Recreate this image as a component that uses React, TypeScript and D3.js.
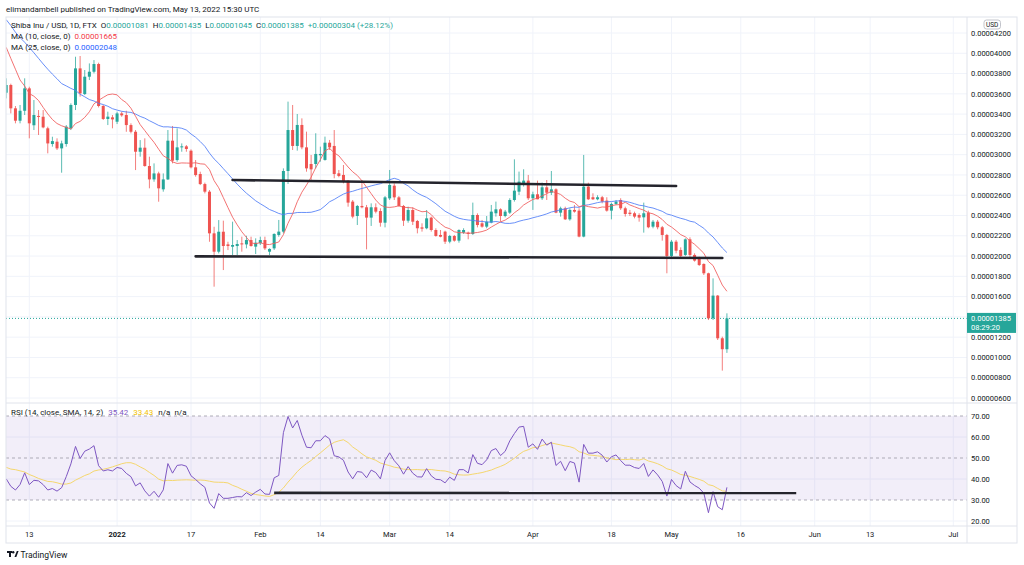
import React from "react";
import * as d3 from "d3";

// Prices are in units of 1e-8 USD (e.g. 4200 = 0.00004200)
const startDate = Date.UTC(2021, 11, 8);
// Closes before the first visible candle (Nov 8 – Dec 7, 2021), used for MA/RSI warm-up
const priorCloses = [4400, 4600, 4500, 4700, 4550, 4500, 4900, 5000, 4750, 4800, 4600, 4700, 4750, 4650, 4400, 4350, 4200, 4300, 3850, 4100, 4350, 4550, 4400, 4500, 4250, 4050, 3650, 3800, 3950, 3750];

const opens = [
  3611, 3687, 3457, 3335, 3433, 3654, 3290, 3382, 3374, 3260,
  3105, 3128, 3062, 3105, 3259, 3490, 3851, 3598, 3769, 3818,
  3894, 3480, 3352, 3368, 3325, 3407, 3391, 3292, 3226, 3029,
  3069, 2888, 2756, 2815, 2658, 2756, 3138, 2947, 3072, 3082,
  3039, 2875, 2809, 2710, 2635, 2224, 2043, 2240, 2115, 2092,
  2099, 2125, 2115, 2158, 2093, 2126, 2158, 2043, 2076, 2208,
  2241, 2839, 3243, 3086, 3293, 3072, 2908, 2908, 2994, 2948,
  3118, 3086, 2816, 2800, 2744, 2537, 2395, 2494, 2481, 2379,
  2481, 2444, 2329, 2569, 2694, 2579, 2494, 2349, 2454, 2346,
  2283, 2274, 2379, 2257, 2208, 2241, 2142, 2198, 2152, 2231,
  2231, 2218, 2405, 2323, 2290, 2330, 2422, 2461, 2395, 2428,
  2553, 2635, 2718, 2744, 2570, 2609, 2570, 2678, 2625, 2658,
  2428, 2471, 2362, 2455, 2448, 2192, 2685, 2580, 2560, 2580,
  2547, 2448, 2514, 2553, 2471, 2428, 2422, 2405, 2382, 2428,
  2290, 2339, 2284, 2208, 2001, 2142, 2060, 2011, 2165, 2011,
  1978, 1922, 1830, 1386, 1610, 1189, 1081,
];
const highs = [
  3753, 3700, 3480, 3490, 3753, 3670, 3539, 3440, 3440, 3276,
  3177, 3161, 3138, 3292, 3506, 3966, 3973, 3835, 3900, 3933,
  3907, 3490, 3424, 3391, 3424, 3424, 3433, 3309, 3243, 3144,
  3161, 2980, 2914, 2832, 2815, 3243, 3283, 3260, 3111, 3095,
  3052, 2947, 2832, 2724, 2651, 2289, 2355, 2349, 2141, 2339,
  2158, 2191, 2200, 2191, 2175, 2191, 2191, 2076, 2224, 2356,
  2865, 3523, 3490, 3401, 3358, 3227, 2997, 3211, 3079, 3178,
  3145, 3243, 2849, 2898, 2750, 2553, 2504, 2750, 2504, 2520,
  2520, 2471, 2592, 2849, 2717, 2592, 2504, 2487, 2481, 2356,
  2323, 2454, 2389, 2274, 2257, 2250, 2208, 2208, 2264, 2274,
  2241, 2527, 2421, 2356, 2395, 2504, 2537, 2471, 2455, 2570,
  2954, 2833, 2856, 2800, 2635, 2744, 2724, 2750, 2839, 2668,
  2487, 2487, 2471, 2504, 2471, 2997, 2724, 2619, 2600, 2593,
  2580, 2527, 2553, 2570, 2487, 2455, 2438, 2422, 2527, 2448,
  2356, 2356, 2297, 2218, 2159, 2159, 2086, 2175, 2185, 2027,
  1994, 1928, 1836, 1780, 1616, 1205, 1435,
];
const lows = [
  3555, 3407, 3309, 3309, 3391, 3161, 3243, 3194, 3260, 3013,
  3079, 3046, 2822, 3079, 3243, 3440, 3572, 3588, 3736, 3802,
  3466, 3342, 3292, 3260, 3302, 3374, 3226, 3210, 2848, 2980,
  2881, 2668, 2733, 2536, 2635, 2750, 2914, 2931, 3029, 3029,
  2865, 2783, 2700, 2618, 2141, 1698, 2026, 1862, 2059, 2010,
  2010, 2043, 2076, 2093, 2020, 2109, 2060, 2010, 2060, 2191,
  2224, 2711, 3046, 3040, 3053, 2832, 2734, 2865, 2931, 2941,
  3046, 2767, 2777, 2717, 2487, 2372, 2306, 2471, 2066, 2297,
  2421, 2290, 2283, 2553, 2553, 2487, 2297, 2329, 2306, 2224,
  2241, 2264, 2241, 2191, 2185, 2119, 2126, 2142, 2132, 2218,
  2165, 2208, 2283, 2280, 2274, 2323, 2389, 2339, 2382, 2415,
  2537, 2602, 2685, 2553, 2455, 2560, 2553, 2553, 2602, 2422,
  2389, 2356, 2349, 2428, 2185, 2185, 2553, 2553, 2550, 2520,
  2438, 2362, 2504, 2455, 2389, 2395, 2372, 2339, 2231, 2274,
  2274, 2264, 2152, 1830, 1988, 2027, 1988, 2001, 1988, 1945,
  1902, 1813, 1369, 1369, 1172, 870, 1045,
];
const closes = [
  3687, 3457, 3335, 3433, 3654, 3309, 3391, 3375, 3269, 3111,
  3134, 3062, 3111, 3276, 3490, 3851, 3605, 3769, 3818, 3894,
  3480, 3352, 3375, 3348, 3407, 3388, 3292, 3226, 3029, 3069,
  2888, 2756, 2815, 2668, 2756, 3138, 2941, 3072, 3082, 3056,
  2875, 2799, 2710, 2635, 2224, 2043, 2240, 2099, 2099, 2109,
  2119, 2115, 2158, 2099, 2132, 2158, 2076, 2070, 2218, 2241,
  2839, 3243, 3086, 3293, 3072, 2865, 2855, 3007, 3007, 3118,
  3072, 2809, 2790, 2734, 2527, 2389, 2494, 2481, 2379, 2481,
  2438, 2329, 2579, 2701, 2579, 2494, 2349, 2454, 2339, 2274,
  2270, 2372, 2257, 2198, 2191, 2142, 2198, 2152, 2257, 2257,
  2218, 2405, 2306, 2290, 2339, 2438, 2461, 2395, 2438, 2553,
  2645, 2734, 2744, 2570, 2609, 2560, 2678, 2625, 2658, 2428,
  2471, 2362, 2455, 2438, 2192, 2685, 2560, 2560, 2580, 2537,
  2448, 2514, 2537, 2471, 2415, 2415, 2389, 2379, 2422, 2284,
  2339, 2284, 2208, 2001, 2142, 2053, 2001, 2165, 2011, 1955,
  1912, 1830, 1386, 1610, 1189, 1081, 1385,
];

const priceTicks = [4200, 4000, 3800, 3600, 3400, 3200, 3000, 2800, 2600, 2400, 2200, 2000, 1800, 1600, 1200, 1000, 800, 600];
const priceGrid = [4200, 4000, 3800, 3600, 3400, 3200, 3000, 2800, 2600, 2400, 2200, 2000, 1800, 1600, 1400, 1200, 1000, 800, 600];
const rsiTicks = [70, 60, 50, 40, 30, 20];
const rsiDashed = [70, 50, 30];
const timeTickDates = ["2021-12-13", "2022-01-01", "2022-01-17", "2022-02-01", "2022-02-14", "2022-03-01", "2022-03-14", "2022-04-01", "2022-04-18", "2022-05-01", "2022-05-16", "2022-06-01", "2022-06-13", "2022-07-01"];
const timeTickLabels = ["13", "2022", "17", "Feb", "14", "Mar", "14", "Apr", "18", "May", "16", "Jun", "13", "Jul"];

// Drawn trend lines: [date, value]
const resistanceLine = [["2022-01-26", 2750], ["2022-05-02", 2691]];
const supportLine = [["2022-01-18", 1997], ["2022-05-12", 1981]];
const rsiSupportLine = [["2022-02-04", 33.4], ["2022-05-28", 33.3]];

const lastPrice = 1385;
const countdown = "08:29:20";

const GREEN = "#26a69a";
const RED = "#ef5350";
const FONT = "Roboto, 'Liberation Sans', sans-serif";
const TEXT = "#131722";

function sma(vals: number[], len: number) {
  return vals.map((_, i) => (i < len - 1 ? NaN : d3.mean(vals.slice(i - len + 1, i + 1)) as number));
}
function rsiCalc(vals: number[], len: number) {
  const out = vals.map(() => NaN);
  let up = 0, dn = 0;
  for (let i = 1; i < vals.length; i++) {
    const ch = vals[i] - vals[i - 1];
    const u = Math.max(ch, 0), d = Math.max(-ch, 0);
    if (i <= len) {
      up += u / len; dn += d / len;
      if (i === len) out[i] = dn === 0 ? 100 : 100 - 100 / (1 + up / dn);
    } else {
      up = (up * (len - 1) + u) / len;
      dn = (dn * (len - 1) + d) / len;
      out[i] = dn === 0 ? 100 : 100 - 100 / (1 + up / dn);
    }
  }
  return out;
}
function smaNaN(vals: number[], len: number) {
  return vals.map((_, i) => {
    if (i < len - 1) return NaN;
    const s = vals.slice(i - len + 1, i + 1);
    if (s.some((v) => isNaN(v))) return NaN;
    return d3.mean(s) as number;
  });
}

const L = 6, R = 967, TOP = 17, SEP = 403, TAX = 526, BOT = 543, RIGHT = 1017;

export default function App() {
  const dates = closes.map((_, i) => new Date(startDate + i * 86400000));
  const x = d3.scaleUtc().domain([new Date("2021-12-13"), new Date("2022-07-01")]).range([29.3, 953.3]);
  const y = d3.scaleLinear().domain([600, 4200]).range([398, 33]);
  const yr = d3.scaleLinear().domain([20, 70]).range([521, 416]);

  const all = [...priorCloses, ...closes];
  const off = priorCloses.length;
  const ma10 = sma(all, 10).slice(off);
  const ma25 = sma(all, 25).slice(off);
  const rsiAll = rsiCalc(all, 14);
  const rsiMaAll = smaNaN(rsiAll, 14);
  const rsi = rsiAll.slice(off);
  const rsiMa = rsiMaAll.slice(off);

  const line = (arr: number[], ys: (v: number) => number) =>
    d3.line<number>().defined((v) => !isNaN(v)).x((_, i) => x(dates[i])).y((v) => ys(v))(arr) || "";

  const fmt = (p: number) => (p * 1e-8).toFixed(8);
  const bw = 3;

  return (
    <div style={{ position: "fixed", left: 0, top: 0, width: 1024, height: 565, background: "#fff" }}>
      <svg width={1024} height={565} style={{ display: "block", fontFamily: FONT }}>
        <defs>
          <clipPath id="cp-price"><rect x={L} y={TOP} width={R - L} height={SEP - TOP} /></clipPath>
          <clipPath id="cp-rsi"><rect x={L} y={SEP} width={R - L} height={TAX - SEP} /></clipPath>
        </defs>
        <rect x={0} y={0} width={1024} height={565} fill="#fff" />
        <text x={6} y={12} fontSize={8} fill={TEXT}>elimandambell published on TradingView.com, May 13, 2022 15:30 UTC</text>

        {/* grid */}
        {timeTickDates.map((d) => (
          <line key={"vg" + d} x1={x(new Date(d))} x2={x(new Date(d))} y1={TOP} y2={TAX} stroke="#f0f3fa" />
        ))}
        {priceGrid.map((p) => (
          <line key={"hg" + p} x1={L} x2={R} y1={y(p)} y2={y(p)} stroke="#f0f3fa" />
        ))}
        {[60, 40, 20].map((v) => (
          <line key={"rg" + v} x1={L} x2={R} y1={yr(v)} y2={yr(v)} stroke="#f0f3fa" />
        ))}

        {/* RSI band */}
        <rect x={L} y={yr(70)} width={R - L} height={yr(30) - yr(70)} fill="rgba(126,87,194,0.1)" />
        {rsiDashed.map((v) => (
          <line key={"rd" + v} x1={L} x2={R} y1={yr(v)} y2={yr(v)} stroke="#9b98a6" strokeOpacity={0.8} strokeDasharray="3,3" />
        ))}

        {/* price pane */}
        <g clipPath="url(#cp-price)">
          <line x1={L} x2={R} y1={y(lastPrice)} y2={y(lastPrice)} stroke={GREEN} strokeDasharray="1,2" />
          {closes.map((c, i) => {
            const o = opens[i];
            const up = c >= o;
            const col = up ? GREEN : RED;
            const cx = x(dates[i]);
            const top = y(Math.max(o, c));
            const bot = y(Math.min(o, c));
            return (
              <g key={"c" + i}>
                <line x1={cx} x2={cx} y1={y(highs[i])} y2={y(lows[i])} stroke={col} strokeOpacity={0.75} />
                <rect x={cx - bw / 2} y={top} width={bw} height={Math.max(1, bot - top)} fill={col} />
              </g>
            );
          })}
          <path d={line(ma25, y)} fill="none" stroke="#4f7cf7" strokeOpacity={0.85} strokeWidth={1} />
          <path d={line(ma10, y)} fill="none" stroke="#f05a5a" strokeOpacity={0.85} strokeWidth={1} />
          {[resistanceLine, supportLine].map((ln, k) => (
            <line key={"tl" + k} x1={x(new Date(ln[0][0] as string))} y1={y(ln[0][1] as number)} x2={x(new Date(ln[1][0] as string))} y2={y(ln[1][1] as number)} stroke="#24242c" strokeWidth={2.6} strokeLinecap="round" />
          ))}
        </g>

        {/* RSI pane */}
        <g clipPath="url(#cp-rsi)">
          <path d={line(rsiMa, yr)} fill="none" stroke="#f5d76e" strokeWidth={1} />
          <path d={line(rsi, yr)} fill="none" stroke="#7e57c2" strokeWidth={1} />
          <line x1={x(new Date(rsiSupportLine[0][0] as string))} y1={yr(rsiSupportLine[0][1] as number)} x2={x(new Date(rsiSupportLine[1][0] as string))} y2={yr(rsiSupportLine[1][1] as number)} stroke="#24242c" strokeWidth={2.6} />
        </g>

        {/* frame */}
        <rect x={L} y={TOP} width={RIGHT - L} height={BOT - TOP} fill="none" stroke="#e0e3eb" />
        <line x1={R} x2={R} y1={TOP} y2={BOT} stroke="#e0e3eb" />
        <line x1={L} x2={RIGHT} y1={SEP} y2={SEP} stroke="#e0e3eb" />
        <line x1={L} x2={RIGHT} y1={TAX} y2={TAX} stroke="#e0e3eb" />

        {/* legends */}
        <text x={11} y={28} fontSize={8} fill={TEXT}>
          <tspan>Shiba Inu / USD, 1D, FTX </tspan>
          <tspan dx={2}>O</tspan><tspan fill={GREEN}>{fmt(opens[opens.length - 1])}</tspan>
          <tspan dx={4}>H</tspan><tspan fill={GREEN}>{fmt(highs[highs.length - 1])}</tspan>
          <tspan dx={4}>L</tspan><tspan fill={GREEN}>{fmt(lows[lows.length - 1])}</tspan>
          <tspan dx={4}>C</tspan><tspan fill={GREEN}>{fmt(closes[closes.length - 1])}</tspan>
          <tspan dx={4} fill={GREEN}>+0.00000304 (+28.12%)</tspan>
        </text>
        <text x={11} y={39} fontSize={8} fill={TEXT}>
          <tspan>MA (10, close, 0)</tspan><tspan dx={4} fill="#f23645">0.00001665</tspan>
        </text>
        <text x={11} y={49.5} fontSize={8} fill={TEXT}>
          <tspan>MA (25, close, 0)</tspan><tspan dx={4} fill="#2962ff">0.00002048</tspan>
        </text>
        <text x={11} y={415} fontSize={8} fill={TEXT}>
          <tspan>RSI (14, close, SMA, 14, 2)</tspan>
          <tspan dx={5} fill="#7e57c2">35.42</tspan>
          <tspan dx={5} fill="#f2c200">33.43</tspan>
          <tspan dx={5}>n/a</tspan>
          <tspan dx={4}>n/a</tspan>
        </text>

        {/* price axis */}
        {priceTicks.map((p) => (
          <text key={"pt" + p} x={971} y={y(p) + 2.7} fontSize={7.5} fill={TEXT}>{fmt(p)}</text>
        ))}
        <rect x={984} y={20} width={16.5} height={9} rx={2.5} fill="#fff" stroke="#b2b5be" strokeWidth={0.8} />
        <text x={992.2} y={26.9} fontSize={6.5} fill={TEXT} textAnchor="middle">USD</text>
        <rect x={R} y={y(lastPrice) - 5.5} width={49} height={20} fill={GREEN} />
        <text x={971} y={y(lastPrice) + 2.7} fontSize={7.5} fill="#fff">{fmt(lastPrice)}</text>
        <text x={971} y={y(lastPrice) + 11.5} fontSize={7.5} fill="#fff">{countdown}</text>

        {/* RSI axis */}
        {rsiTicks.map((v) => (
          <text key={"rt" + v} x={971} y={yr(v) + 2.7} fontSize={7.5} fill={TEXT}>{v.toFixed(2)}</text>
        ))}

        {/* time axis */}
        {timeTickDates.map((d, i) => (
          <text key={"tt" + d} x={x(new Date(d))} y={537} fontSize={7.5} fill={TEXT} textAnchor="middle" fontWeight={timeTickLabels[i] === "2022" ? "bold" : "normal"}>{timeTickLabels[i]}</text>
        ))}

        {/* logo */}
        <g fill={TEXT}>
          <rect x={7} y={551} width={5} height={2} />
          <rect x={9} y={551} width={2} height={6} />
          <circle cx={13.2} cy={552.2} r={1.2} />
          <path d="M14.5 557 L16.8 551 L18.6 551 L16.3 557 Z" />
        </g>
        <text x={20.5} y={557.5} fontSize={8.5} fill={TEXT}>TradingView</text>
      </svg>
    </div>
  );
}
